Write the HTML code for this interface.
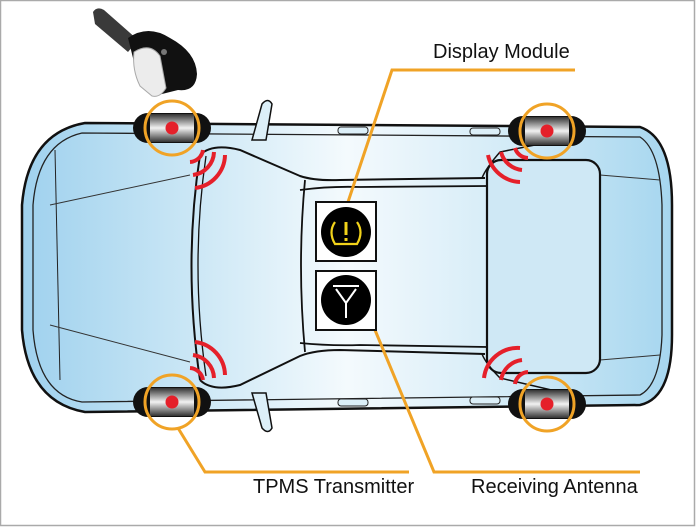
<!DOCTYPE html>
<html><head><meta charset="utf-8"><style>
html,body{margin:0;padding:0;background:#fff}
svg{display:block}
text{font-family:"Liberation Sans",sans-serif;fill:#111}
</style></head><body>
<svg width="696" height="527" viewBox="0 0 696 527" xmlns="http://www.w3.org/2000/svg">
<defs>
<linearGradient id="body" x1="0" x2="1" y1="0" y2="0">
<stop offset="0" stop-color="#9fd1ee"/>
<stop offset="0.25" stop-color="#c9e6f5"/>
<stop offset="0.5" stop-color="#f4fafd"/>
<stop offset="0.75" stop-color="#d3ebf7"/>
<stop offset="1" stop-color="#a6d6ef"/>
</linearGradient>
<linearGradient id="tire" x1="0" x2="0" y1="0" y2="1">
<stop offset="0" stop-color="#333"/>
<stop offset="0.5" stop-color="#f2f2f2"/>
<stop offset="1" stop-color="#333"/>
</linearGradient>
</defs>
<rect x="0.5" y="0.5" width="694" height="525" fill="#fff" stroke="#aaa" stroke-width="1.5"/>

<!-- sensor -->
<g>
<path d="M93,12 Q97,6 104,10 L138,40 L128,52 L95,24 Z" fill="#3a3a3a"/>
<path d="M128,38 Q148,24 170,38 Q196,52 197,74 Q196,92 178,90 L162,94 Q150,96 140,86 Z" fill="#111"/>
<path d="M134,52 Q150,42 160,56 L166,88 Q160,98 152,96 L140,86 Q132,70 134,52 Z" fill="#ececec" stroke="#aaa" stroke-width="1"/>
<circle cx="164" cy="52" r="3" fill="#777"/>
</g>

<!-- car body -->
<path d="M85,123 L640,127 Q672,138 672,205 L672,335 Q672,398 640,405 L85,412 Q28,402 22,330 L22,205 Q28,133 85,123 Z" fill="url(#body)" stroke="#111" stroke-width="2.5"/>
<path d="M82,133 L640,137 Q660,150 662,205 L662,335 Q660,385 640,395 L82,402 Q38,395 33,330 L33,205 Q38,143 82,133 Z" fill="none" stroke="#222" stroke-width="1.3"/>
<path d="M55,150 L60,380" fill="none" stroke="#222" stroke-width="1"/>
<path d="M50,205 L190,175 M50,325 L190,362" fill="none" stroke="#333" stroke-width="1"/>
<path d="M600,175 L660,180 M600,360 L660,355" fill="none" stroke="#333" stroke-width="1"/>

<!-- greenhouse -->
<path d="M200,155 Q183,265 200,380" fill="none" stroke="#111" stroke-width="2"/>
<path d="M206,156 Q190,265 206,376" fill="none" stroke="#111" stroke-width="1.3"/>
<path d="M200,155 Q212,143 240,150 L300,176 Q315,181 340,180 L485,178" fill="none" stroke="#111" stroke-width="2"/>
<path d="M300,190 Q330,186 360,187 L488,186" fill="none" stroke="#111" stroke-width="1.8"/>
<path d="M200,380 Q212,392 240,385 L300,356 Q315,350 340,350 L485,354" fill="none" stroke="#111" stroke-width="2"/>
<path d="M300,343 Q330,346 360,345 L488,347" fill="none" stroke="#111" stroke-width="1.8"/>
<path d="M305,180 Q297,265 305,352" fill="none" stroke="#111" stroke-width="1.8"/>
<rect x="487" y="160" width="113" height="213" rx="14" fill="#cfe8f5" stroke="#111" stroke-width="2.2"/>
<path d="M482,178 Q486,168 500,152 L560,140 M482,354 Q486,364 500,378 L560,392" fill="none" stroke="#111" stroke-width="1.5"/>
<rect x="338" y="127" width="30" height="7" rx="3" fill="#dceff8" stroke="#222" stroke-width="1"/>
<rect x="470" y="128" width="30" height="7" rx="3" fill="#dceff8" stroke="#222" stroke-width="1"/>
<rect x="338" y="399" width="30" height="7" rx="3" fill="#dceff8" stroke="#222" stroke-width="1"/>
<rect x="470" y="397" width="30" height="7" rx="3" fill="#dceff8" stroke="#222" stroke-width="1"/>
<path d="M252,140 L262,104 Q268,97 272,104 L266,140 Z" fill="#dceff8" stroke="#111" stroke-width="1.5"/>
<path d="M252,393 L262,428 Q268,435 272,428 L266,393 Z" fill="#dceff8" stroke="#111" stroke-width="1.5"/>

<!-- wheels -->
<g>
<rect x="133" y="113" width="78" height="30" rx="15" fill="#111"/>
<rect x="150" y="114" width="44" height="28" fill="url(#tire)"/>
<circle cx="172" cy="128" r="6.5" fill="#e5202a"/>
<circle cx="172" cy="128" r="27" fill="none" stroke="#f0a326" stroke-width="3"/>
</g>
<g>
<rect x="508" y="116" width="78" height="30" rx="15" fill="#111"/>
<rect x="525" y="117" width="44" height="28" fill="url(#tire)"/>
<circle cx="547" cy="131" r="6.5" fill="#e5202a"/>
<circle cx="547" cy="131" r="27" fill="none" stroke="#f0a326" stroke-width="3"/>
</g>
<g>
<rect x="133" y="387" width="78" height="30" rx="15" fill="#111"/>
<rect x="150" y="388" width="44" height="28" fill="url(#tire)"/>
<circle cx="172" cy="402" r="6.5" fill="#e5202a"/>
<circle cx="172" cy="402" r="27" fill="none" stroke="#f0a326" stroke-width="3"/>
</g>
<g>
<rect x="508" y="389" width="78" height="30" rx="15" fill="#111"/>
<rect x="525" y="390" width="44" height="28" fill="url(#tire)"/>
<circle cx="547" cy="404" r="6.5" fill="#e5202a"/>
<circle cx="547" cy="404" r="27" fill="none" stroke="#f0a326" stroke-width="3"/>
</g>

<!-- signal arcs -->
<g fill="none" stroke="#e5202a" stroke-width="4">
<path d="M190,162 A14,14 0 0 0 203,150"/>
<path d="M193,175 A24,24 0 0 0 214,152"/>
<path d="M195,188 A34,34 0 0 0 225,155"/>
<path d="M190,368 A14,14 0 0 1 203,380"/>
<path d="M193,355 A24,24 0 0 1 214,378"/>
<path d="M195,342 A34,34 0 0 1 225,375"/>
<path d="M528,158 A14,14 0 0 1 515,148"/>
<path d="M522,170 A24,24 0 0 1 501,152"/>
<path d="M520,182 A34,34 0 0 1 488,155"/>
<path d="M528,372 A14,14 0 0 0 515,384"/>
<path d="M522,360 A24,24 0 0 0 501,380"/>
<path d="M520,348 A34,34 0 0 0 484,378"/>
</g>

<!-- orange leaders -->
<g fill="none" stroke="#f0a326" stroke-width="3">
<path d="M575,70 L392,70 L347,205"/>
<path d="M178,428 L205,472 L409,472"/>
<path d="M375,330 L434,472 L640,472"/>
</g>

<!-- display module boxes -->
<rect x="316" y="202" width="60" height="59" fill="#fff" stroke="#111" stroke-width="2"/>
<circle cx="346" cy="232" r="25" fill="#000"/>
<path d="M335,222 Q328,232 335,244 L357,244 Q364,232 357,222" fill="none" stroke="#f1d21a" stroke-width="2.2"/>
<rect x="344.5" y="222" width="3" height="13" fill="#f1d21a"/>
<rect x="344.5" y="238" width="3" height="3" fill="#f1d21a"/>
<rect x="316" y="271" width="60" height="59" fill="#fff" stroke="#111" stroke-width="2"/>
<circle cx="346" cy="300" r="25" fill="#000"/>
<path d="M333,286 L359,286 M336,289 L346,303 L356,289 M346,303 L346,318" fill="none" stroke="#fff" stroke-width="2"/>

<!-- labels -->
<text x="433" y="58" font-size="20">Display Module</text>
<text x="253" y="493" font-size="20">TPMS Transmitter</text>
<text x="471" y="493" font-size="20">Receiving Antenna</text>
</svg>
</body></html>
